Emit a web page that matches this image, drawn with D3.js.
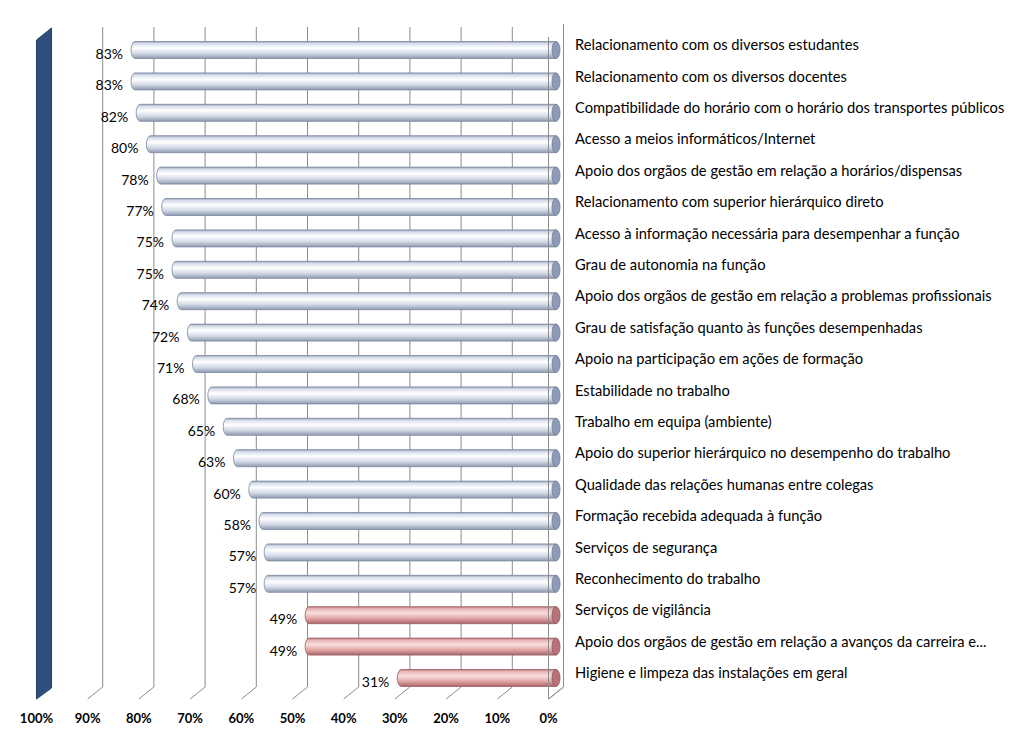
<!DOCTYPE html>
<html>
<head>
<meta charset="utf-8">
<script src="https://cdn.jsdelivr.net/npm/d3@7"></script>
<style>
  body { margin: 0; background: #fff; }
  #chart text { font-family: Lato, "Open Sans", sans-serif; fill: #000; }
</style>
</head>
<body>
<div id="chart"></div>
<script>
// chart data
let categories = [
  "Relacionamento com os diversos estudantes",
  "Relacionamento com os diversos docentes",
  "Compatibilidade do horário com o horário dos transportes públicos",
  "Acesso a meios informáticos/Internet",
  "Apoio dos orgãos de gestão em relação a horários/dispensas",
  "Relacionamento com superior hierárquico direto",
  "Acesso à informação necessária para desempenhar a função",
  "Grau de autonomia na função",
  "Apoio dos orgãos de gestão em relação a problemas profissionais",
  "Grau de satisfação quanto às funções desempenhadas",
  "Apoio na participação em ações de formação",
  "Estabilidade no trabalho",
  "Trabalho em equipa (ambiente)",
  "Apoio do superior hierárquico no desempenho do trabalho",
  "Qualidade das relações humanas entre colegas",
  "Formação recebida adequada à função",
  "Serviços de segurança",
  "Reconhecimento do trabalho",
  "Serviços de vigilância",
  "Apoio dos orgãos de gestão em relação a avanços da carreira e...",
  "Higiene e limpeza das instalações em geral"
];
let values = [83, 83, 82, 80, 78, 77, 75, 75, 74, 72, 71, 68, 65, 63, 60, 58, 57, 57, 49, 49, 31];
let tickValues = [100, 90, 80, 70, 60, 50, 40, 30, 20, 10, 0];

let width = 1024, height = 748;
let depthX = 7.5, depthY = 6;   // half of the 3d offset
let wallTop = 27, wallBottom = 687;
let barH = 17;

let svg = d3.select('#chart').append('svg')
    .attr('width', width)
    .attr('height', height);

// reversed value axis, mid-depth plane
let x = d3.scaleLinear().domain([0, 100]).range([556, 44]);
let y = d3.scalePoint().domain(categories).range([50, 678]);

let defs = svg.append('defs');
function cylGrad(id, stops) {
  let gr = defs.append('linearGradient').attr('id', id)
      .attr('x1', 0).attr('y1', 0).attr('x2', 0).attr('y2', 1);
  stops.forEach(function(s){
    gr.append('stop').attr('offset', s[0]).attr('stop-color', s[1]);
  });
}
cylGrad('gBlue', [[0, '#98a3ba'], [0.12, '#d6dde9'], [0.38, '#ffffff'], [0.7, '#d2d9e6'], [1, '#8f9ab0']]);
cylGrad('gPink', [[0, '#b87a7c'], [0.12, '#e9b4b4'], [0.38, '#f9dede'], [0.7, '#e2a3a3'], [1, '#a8676a']]);

// back gridlines + floor diagonals
let grid = svg.append('g').attr('class', 'grid');
grid.selectAll('path')
    .data(tickValues.filter(function(d){ return d < 100; }))
    .enter().append('path')
    .attr('d', function(d){
      let xb = x(d) + depthX;
      return 'M' + xb + ',' + wallTop + 'V' + wallBottom +
             'L' + (x(d) - depthX) + ',' + (wallBottom + 2 * depthY);
    })
    .attr('fill', 'none')
    .attr('stroke', '#8c8c8c')
    .attr('stroke-width', 1);

// dark side wall at 100%
let xw = x(100);
svg.append('path')
    .attr('d', 'M' + (xw + depthX) + ',' + (wallTop + 1) + 'V' + (wallBottom + 1) +
        'L' + (xw - depthX) + ',' + (wallBottom + 12) +
        'V' + (wallTop + 13) + 'Z')
    .attr('fill', '#2f4e7c')
    .attr('stroke', '#22406a')
    .attr('stroke-width', 1);

// bars
let bars = svg.append('g').attr('class', 'bars')
    .selectAll('g')
    .data(values)
    .enter().append('g');

bars.append('path')
    .attr('d', function(d, i){
      let l = x(d), r = x(0), c = y(categories[i]);
      let t = c - barH / 2, b = c + barH / 2, rx = 4;
      return 'M' + r + ',' + t + 'L' + (l + rx) + ',' + t +
             'A' + rx + ',' + (barH / 2) + ' 0 0 0 ' + (l + rx) + ',' + b +
             'L' + r + ',' + b + 'Z';
    })
    .attr('fill', function(d){ return d < 50 ? 'url(#gPink)' : 'url(#gBlue)'; })
    .attr('stroke', function(d){ return d < 50 ? '#9a5e62' : '#7b87a0'; })
    .attr('stroke-width', 0.8);

bars.append('ellipse')
    .attr('cx', x(0))
    .attr('cy', function(d, i){ return y(categories[i]); })
    .attr('rx', 4)
    .attr('ry', barH / 2)
    .attr('fill', function(d){ return d < 50 ? '#b7737a' : '#8d9bb9'; })
    .attr('stroke', function(d){ return d < 50 ? '#8f555b' : '#6f7c96'; })
    .attr('stroke-width', 0.8);

// right wall outline (front edge drawn over bars)
let x0 = x(0);
svg.append('path')
    .attr('d', 'M' + (x0 + depthX) + ',' + (wallTop - 3) + 'V' + wallBottom +
        'L' + (x0 - depthX) + ',' + (wallBottom + 2 * depthY) +
        'V' + (wallTop + 10))
    .attr('fill', 'none')
    .attr('stroke', '#8c8c8c')
    .attr('stroke-width', 1);

// value labels
bars.append('text')
    .attr('x', function(d){ return x(d) - 8; })
    .attr('y', function(d, i){ return y(categories[i]) + 4; })
    .attr('dy', '0.35em')
    .attr('text-anchor', 'end')
    .style('font-size', '14px')
    .text(function(d){ return d + '%'; });

// category labels
svg.append('g').selectAll('text')
    .data(categories)
    .enter().append('text')
    .attr('x', 575)
    .attr('y', function(d){ return y(d) - 5; })
    .attr('dy', '0.35em')
    .style('font-size', '14.7px')
    .text(function(d){ return d; });

// bottom axis labels (front edge)
svg.append('g').selectAll('text')
    .data(tickValues)
    .enter().append('text')
    .attr('x', function(d){ return x(d) - depthX; })
    .attr('y', 718)
    .attr('dy', '0.35em')
    .attr('text-anchor', 'middle')
    .style('font-size', '13px')
    .style('font-weight', 'bold')
    .text(function(d){ return d + '%'; });
</script>
</body>
</html>
